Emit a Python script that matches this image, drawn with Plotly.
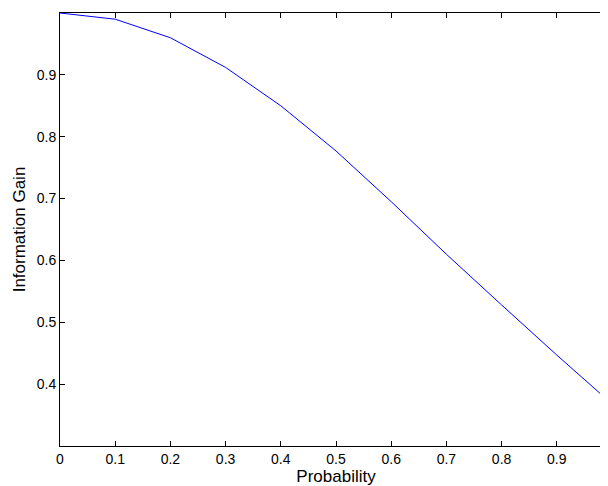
import plotly.graph_objects as go

prob = [0, 0.1, 0.2, 0.3, 0.4, 0.5, 0.6, 0.7, 0.8, 0.9, 1.0]
gain = [1.0, 0.99, 0.96, 0.912, 0.85, 0.777, 0.695, 0.61, 0.528, 0.447, 0.368]
xticks = [0, 0.1, 0.2, 0.3, 0.4, 0.5, 0.6, 0.7, 0.8, 0.9, 1]
xlabels = ["0", "0.1", "0.2", "0.3", "0.4", "0.5", "0.6", "0.7", "0.8", "0.9", "1"]
yticks = [0.4, 0.5, 0.6, 0.7, 0.8, 0.9, 1]
ylabels = ["0.4", "0.5", "0.6", "0.7", "0.8", "0.9", "1"]

fig = go.Figure(go.Scatter(x=prob, y=gain, mode="lines", line=dict(color="blue", width=1),
                           cliponaxis=False))
ax = dict(showline=True, linecolor="black", linewidth=1, mirror="ticks", ticks="inside",
          ticklen=5, tickcolor="black", showgrid=False, zeroline=False, automargin=False)
fig.update_xaxes(range=[0, 1], tickvals=xticks, ticktext=xlabels,
                 title=dict(text="Probability", standoff=4), **ax)
fig.update_yaxes(range=[0.3, 1], tickvals=yticks, ticktext=ylabels,
                 title=dict(text="Information Gain", standoff=6), **ax)
fig.update_layout(width=608, height=486, margin=dict(l=52, r=4, t=5, b=48),
                  plot_bgcolor="white", paper_bgcolor="white", showlegend=False,
                  font=dict(family="Liberation Sans", size=14, color="black"))
fig.write_html("out.html")
